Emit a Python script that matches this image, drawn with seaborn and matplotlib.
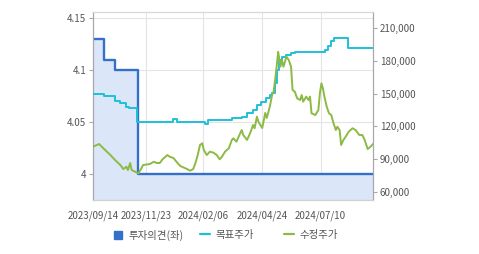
import matplotlib
matplotlib.use("Agg")
import matplotlib.pyplot as plt
from matplotlib.lines import Line2D
import seaborn as sns
import pandas as pd

sns.set_style("white")
plt.rcParams['font.family'] = ['Noto Sans CJK KR', 'DejaVu Sans']

# ---------------- data ----------------
opinion_dates = ["2023-09-14", "2023-09-28", "2023-10-13", "2023-11-12", "2024-09-17"]
opinion_values = [4.13, 4.11, 4.10, 4.00, 4.00]

target_dates = ["2023-09-14", "2023-09-28", "2023-10-13", "2023-10-20", "2023-10-28",
                "2023-11-01", "2023-11-11", "2023-12-29", "2024-01-03", "2024-02-08",
                "2024-02-13", "2024-03-15", "2024-03-28", "2024-04-04", "2024-04-12",
                "2024-04-17", "2024-04-23", "2024-04-29", "2024-05-04", "2024-05-07",
                "2024-05-11", "2024-05-13", "2024-05-16", "2024-05-20", "2024-05-26",
                "2024-06-01", "2024-06-06", "2024-07-16", "2024-07-20", "2024-07-24",
                "2024-07-27", "2024-08-15", "2024-09-17"]
target_values = [150000, 148000, 143500, 141100, 138000,
                 136500, 124300, 126800, 123900, 122300,
                 125900, 127400, 128900, 132000, 135000,
                 140000, 142600, 145700, 148700, 150300,
                 160000, 172000, 180700, 183700, 185300,
                 186900, 188000, 189900, 193800, 198000,
                 200800, 191400, 191400]

price_dates = ["2023-09-14", "2023-09-22", "2023-09-30", "2023-10-07", "2023-10-13",
               "2023-10-20", "2023-10-24", "2023-10-28", "2023-10-30", "2023-11-02",
               "2023-11-04", "2023-11-11", "2023-11-13", "2023-11-17", "2023-11-19",
               "2023-11-28", "2023-12-03", "2023-12-07", "2023-12-11", "2023-12-15",
               "2023-12-21", "2023-12-24", "2023-12-29", "2024-01-02", "2024-01-07",
               "2024-01-16", "2024-01-20", "2024-01-24", "2024-01-27", "2024-01-30",
               "2024-02-02", "2024-02-05", "2024-02-07", "2024-02-11", "2024-02-15",
               "2024-02-20", "2024-02-24", "2024-02-28", "2024-03-02", "2024-03-06",
               "2024-03-11", "2024-03-15", "2024-03-17", "2024-03-21", "2024-03-26",
               "2024-03-28", "2024-03-30", "2024-04-04", "2024-04-08", "2024-04-12",
               "2024-04-14", "2024-04-17", "2024-04-19", "2024-04-24", "2024-04-28",
               "2024-04-30", "2024-05-04", "2024-05-07", "2024-05-09", "2024-05-11",
               "2024-05-13", "2024-05-15", "2024-05-18", "2024-05-20", "2024-05-22",
               "2024-05-26", "2024-05-29", "2024-06-01", "2024-06-03", "2024-06-06",
               "2024-06-09", "2024-06-13", "2024-06-15", "2024-06-17", "2024-06-21",
               "2024-06-24", "2024-06-26", "2024-06-28", "2024-07-03", "2024-07-07",
               "2024-07-09", "2024-07-11", "2024-07-13", "2024-07-15", "2024-07-18",
               "2024-07-21", "2024-07-24", "2024-07-27", "2024-07-30", "2024-08-01",
               "2024-08-04", "2024-08-06", "2024-08-09", "2024-08-12", "2024-08-16",
               "2024-08-21", "2024-08-25", "2024-08-30", "2024-09-03", "2024-09-06",
               "2024-09-10", "2024-09-14", "2024-09-17"]
price_values = [101400, 103900, 98400, 93800, 89300,
                84700, 81000, 83100, 80100, 86500,
                80100, 77700, 77100, 82000, 84700,
                85600, 87700, 86500, 86500, 90200,
                93800, 92300, 91100, 87700, 83800,
                81000, 79500, 81000, 86500, 93800,
                103000, 104500, 98400, 93800, 96900,
                95900, 93800, 89900, 92300, 96900,
                100000, 107600, 109100, 106000, 113700,
                116700, 112100, 107600, 113700, 121300,
                118300, 128900, 124300, 118500, 132300,
                127700, 138000, 148700, 151700, 162400,
                174600, 188300, 174600, 180700, 174600,
                183700, 180700, 174600, 153300, 151700,
                145700, 144100, 148700, 142600, 147200,
                144100, 147200, 132000, 130400, 135000,
                150300, 159400, 154800, 147200, 138000,
                132000, 130400, 122800, 116700, 119700,
                116700, 103000, 107600, 110600, 115200,
                118300, 116700, 112100, 112100, 107600,
                99300, 101600, 103900]

xtick_labels = ["2023/09/14", "2023/11/23", "2024/02/06", "2024/04/24", "2024/07/10"]
left_ticks = [4.0, 4.05, 4.1, 4.15]
left_tick_labels = ["4", "4.05", "4.1", "4.15"]
right_ticks = [60000, 90000, 120000, 150000, 180000, 210000]
legend_labels = ["투자의견(좌)", "목표주가", "수정주가"]

# ---------------- frames ----------------
op = pd.DataFrame({"date": pd.to_datetime(opinion_dates), "v": opinion_values})
tg = pd.DataFrame({"date": pd.to_datetime(target_dates), "v": target_values})
pr = pd.DataFrame({"date": pd.to_datetime(price_dates), "v": price_values})

BLUE = "#3470c8"
FILL = "#dbe6f8"
CYAN = "#1ec0d8"
GREEN = "#8cba45"
GRID = "#e4e4e4"
SPINE = "#a8a8a8"
TXT = "#555555"

fig = plt.figure(figsize=(4.79, 2.54), dpi=100)
ax = fig.add_axes([93/479, 1-200/254, (373-93)/479, (200-12)/254])
ax2 = ax.twinx()

y_low, y_high = 3.975, 4.156
ax.fill_between(op["date"], op["v"], y_low, step="post", color=FILL, lw=0, zorder=1)
sns.lineplot(data=op, x="date", y="v", ax=ax, color=BLUE, lw=1.7,
             drawstyle="steps-post", zorder=3)

sns.lineplot(data=tg, x="date", y="v", ax=ax2, color=CYAN, lw=1.4,
             drawstyle="steps-post", zorder=3)
sns.lineplot(data=pr, x="date", y="v", ax=ax2, color=GREEN, lw=1.4, zorder=4)

xmin, xmax = pd.Timestamp("2023-09-14"), pd.Timestamp("2024-09-17")
ax.set_xlim(xmin, xmax)
ax.set_ylim(y_low, y_high)
ax2.set_ylim(52700, 224600)

xt = pd.to_datetime([s.replace("/", "-") for s in xtick_labels])
ax.set_xticks(xt)
ax.set_xticklabels(xtick_labels)
ax.set_yticks(left_ticks)
ax.set_yticklabels(left_tick_labels)
ax2.set_yticks(right_ticks)
ax2.set_yticklabels([f"{v:,}" for v in right_ticks])

ax.grid(True, color=GRID, lw=0.8)
ax.set_axisbelow(True)
ax2.grid(False)
for a in (ax, ax2):
    a.set_xlabel("")
    a.set_ylabel("")
    for s in a.spines.values():
        s.set_color(SPINE)
        s.set_linewidth(0.8)
    a.spines["top"].set_color("#d8d8d8")
    a.spines["bottom"].set_color("#d0d0d0")

ax.tick_params(axis="y", left=True, length=3, color=SPINE, labelsize=7, labelcolor=TXT, pad=2)
ax.tick_params(axis="x", bottom=False, labelsize=7, labelcolor=TXT, pad=4)
ax2.tick_params(axis="y", right=True, length=3, color=SPINE, labelsize=7, labelcolor=TXT, pad=2)

handles = [Line2D([0], [0], marker="s", color="none", markerfacecolor=BLUE,
                  markeredgecolor=BLUE, markersize=6),
           Line2D([0], [0], color=CYAN, lw=1.6),
           Line2D([0], [0], color=GREEN, lw=1.6)]
anchors = [113/479, 200/479, 284/479]
for h, lab, xa in zip(handles, legend_labels, anchors):
    fig.legend([h], [lab], loc="center left", bbox_to_anchor=(xa, 1-235/254),
               frameon=False, fontsize=7.5, handlelength=1.0, handletextpad=0.45,
               borderpad=0, borderaxespad=0, labelcolor=TXT)

fig.savefig("out.png", dpi=100)
